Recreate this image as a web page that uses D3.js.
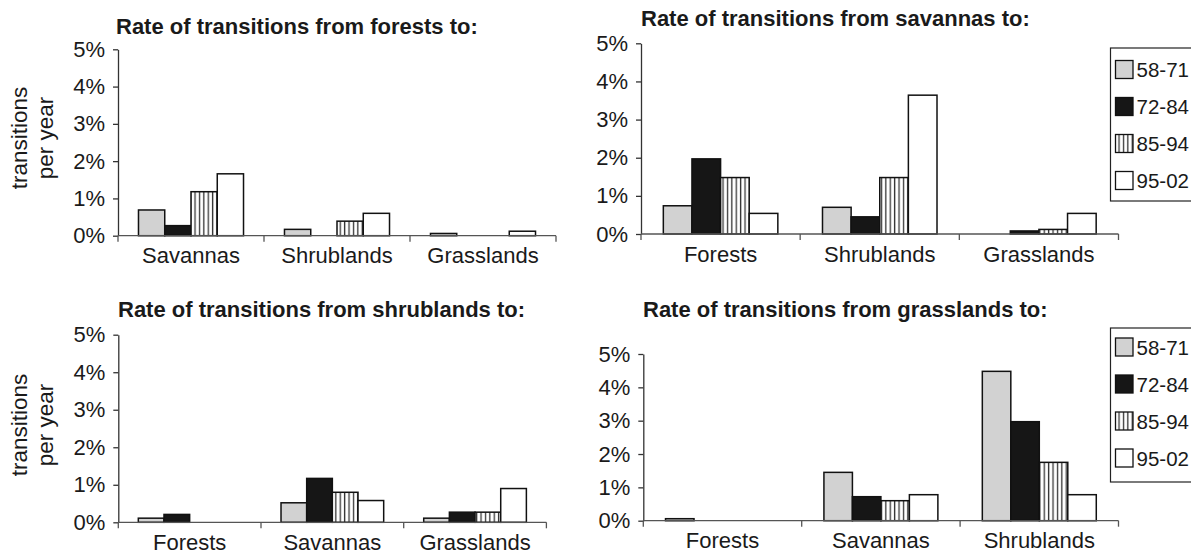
<!DOCTYPE html>
<html>
<head>
<meta charset="utf-8">
<script src="https://cdn.jsdelivr.net/npm/d3@7"></script>
<style>
  html, body { margin: 0; padding: 0; background: #fff; overflow: hidden; }
  svg { display: block; }
  text { font-family: "Liberation Sans", Arial, Helvetica, sans-serif; fill: #1a1a1a; }
</style>
</head>
<body>
<svg id="chart" width="1191" height="554"></svg>
<script>
// ---------------- data ----------------
const series = ["58-71", "72-84", "85-94", "95-02"];
const yTicks = [0, 1, 2, 3, 4, 5];

const forestsTitle = "Rate of transitions from forests to:";
const forestsCats = ["Savannas", "Shrublands", "Grasslands"];
// one row per series, one value per category (% per year)
const forestsVals = [
  [0.69, 0.17, 0.06],
  [0.27, 0.00, 0.00],
  [1.18, 0.39, 0.00],
  [1.66, 0.60, 0.12]
];

const savannasTitle = "Rate of transitions from savannas to:";
const savannasCats = ["Forests", "Shrublands", "Grasslands"];
const savannasVals = [
  [0.74, 0.70, 0.00],
  [1.97, 0.45, 0.08],
  [1.48, 1.48, 0.12],
  [0.54, 3.64, 0.54]
];

const shrublandsTitle = "Rate of transitions from shrublands to:";
const shrublandsCats = ["Forests", "Savannas", "Grasslands"];
const shrublandsVals = [
  [0.11, 0.52, 0.11],
  [0.21, 1.17, 0.27],
  [0.00, 0.80, 0.27],
  [0.00, 0.58, 0.90]
];

const grasslandsTitle = "Rate of transitions from grasslands to:";
const grasslandsCats = ["Forests", "Savannas", "Shrublands"];
const grasslandsVals = [
  [0.06, 1.45, 4.48],
  [0.00, 0.72, 2.97],
  [0.00, 0.60, 1.75],
  [0.00, 0.78, 0.78]
];

const yLabelLines = ["transitions", "per year"];

// ---------------- drawing ----------------
const FS = 22;
const svg = d3.select("#chart");
const defs = svg.append("defs");
const pat = defs.append("pattern")
  .attr("id", "stripes")
  .attr("patternUnits", "userSpaceOnUse")
  .attr("width", 4.4).attr("height", 10);
pat.append("rect").attr("width", 4.4).attr("height", 10).attr("fill", "#fff");
pat.append("rect").attr("x", 0.8).attr("width", 1.3).attr("height", 10).attr("fill", "#333");

const fills = ["#d2d2d2", "#161616", "url(#stripes)", "#ffffff"];

const panels = [
  { title: forestsTitle, cats: forestsCats, vals: forestsVals,
    left: 118, right: 556, top: 49.3, zero: 235.7, titleX: 116, titleY: 33.5,
    ylabel: { cy: 138 }, legend: null },
  { title: savannasTitle, cats: savannasCats, vals: savannasVals,
    left: 641, right: 1118.5, top: 43.3, zero: 234, titleX: 641, titleY: 26,
    ylabel: null, legend: { top: 48, bottom: 201, first: 69.5 } },
  { title: shrublandsTitle, cats: shrublandsCats, vals: shrublandsVals,
    left: 118.3, right: 546.4, top: 334.7, zero: 522.3, titleX: 118, titleY: 316.7,
    ylabel: { cy: 425 }, legend: null },
  { title: grasslandsTitle, cats: grasslandsCats, vals: grasslandsVals,
    left: 643.3, right: 1118.5, top: 354, zero: 520.7, titleX: 643, titleY: 316.7,
    ylabel: null, legend: { top: 328, bottom: 482, first: 347 } }
];

panels.forEach(p => {
  const g = svg.append("g");
  const y = d3.scaleLinear().domain([0, 5]).range([p.zero, p.top]);
  const x0 = d3.scaleBand().domain(p.cats).range([p.left, p.right]).padding(0);
  const x1 = d3.scaleBand().domain(series).range([0, x0.bandwidth()])
    .paddingInner(0).paddingOuter(0.78);

  // title
  g.append("text")
    .attr("x", p.titleX).attr("y", p.titleY)
    .attr("font-size", FS).attr("font-weight", "bold")
    .text(p.title);

  // bars
  series.forEach((s, si) => {
    g.selectAll(null)
      .data(p.cats.map((c, ci) => ({ c, v: p.vals[si][ci] })).filter(d => d.v > 0))
      .enter().append("rect")
      .attr("x", d => x0(d.c) + x1(s))
      .attr("y", d => y(d.v))
      .attr("width", x1.bandwidth())
      .attr("height", d => y(0) - y(d.v))
      .attr("fill", fills[si])
      .attr("stroke", "#111")
      .attr("stroke-width", 1.5);
  });

  // y axis
  const ya = g.append("g")
    .attr("transform", `translate(${p.left},0)`)
    .call(d3.axisLeft(y).tickValues(yTicks).tickFormat(d => d + "%")
      .tickSize(5).tickPadding(8).tickSizeOuter(0));
  ya.select(".domain").attr("stroke", "#333").attr("stroke-width", 1.3);
  ya.selectAll(".tick line").attr("stroke", "#333").attr("stroke-width", 1.3);
  ya.selectAll(".tick text").attr("font-size", FS)
    .attr("font-family", "Liberation Sans, Arial, sans-serif").attr("fill", "#1a1a1a");

  // x axis line with category separators
  const xa = g.append("g").attr("transform", `translate(0,${p.zero})`);
  xa.append("line").attr("x1", p.left).attr("x2", p.right)
    .attr("stroke", "#555").attr("stroke-width", 1.3);
  const bounds = p.cats.map(c => x0(c)).concat([p.right]);
  xa.selectAll(null).data(bounds).enter().append("line")
    .attr("x1", d => d).attr("x2", d => d).attr("y1", 0).attr("y2", 6)
    .attr("stroke", "#555").attr("stroke-width", 1.3);
  xa.selectAll(null).data(p.cats).enter().append("text")
    .attr("x", d => x0(d) + x0.bandwidth() / 2)
    .attr("y", 27.5)
    .attr("text-anchor", "middle")
    .attr("font-size", FS)
    .text(d => d);

  // y label
  if (p.ylabel) {
    const xs = [27, 52.5];
    yLabelLines.forEach((t, i) => {
      g.append("text")
        .attr("transform", `translate(${xs[i]},${p.ylabel.cy}) rotate(-90)`)
        .attr("text-anchor", "middle")
        .attr("font-size", 22.5)
        .text(t);
    });
  }

  // legend
  if (p.legend) {
    const L = p.legend;
    g.append("rect")
      .attr("x", 1110.5).attr("y", L.top)
      .attr("width", 120).attr("height", L.bottom - L.top)
      .attr("fill", "#fff").attr("stroke", "#222").attr("stroke-width", 1.2);
    series.forEach((s, si) => {
      const cy = L.first + si * 37;
      g.append("rect")
        .attr("x", 1115.5).attr("y", cy - 9)
        .attr("width", 17.5).attr("height", 18)
        .attr("fill", fills[si]).attr("stroke", "#111").attr("stroke-width", 1.3);
      g.append("text")
        .attr("x", 1136.5).attr("y", cy + 7.5)
        .attr("font-size", 20.5)
        .text(s);
    });
  }
});
</script>
</body>
</html>
